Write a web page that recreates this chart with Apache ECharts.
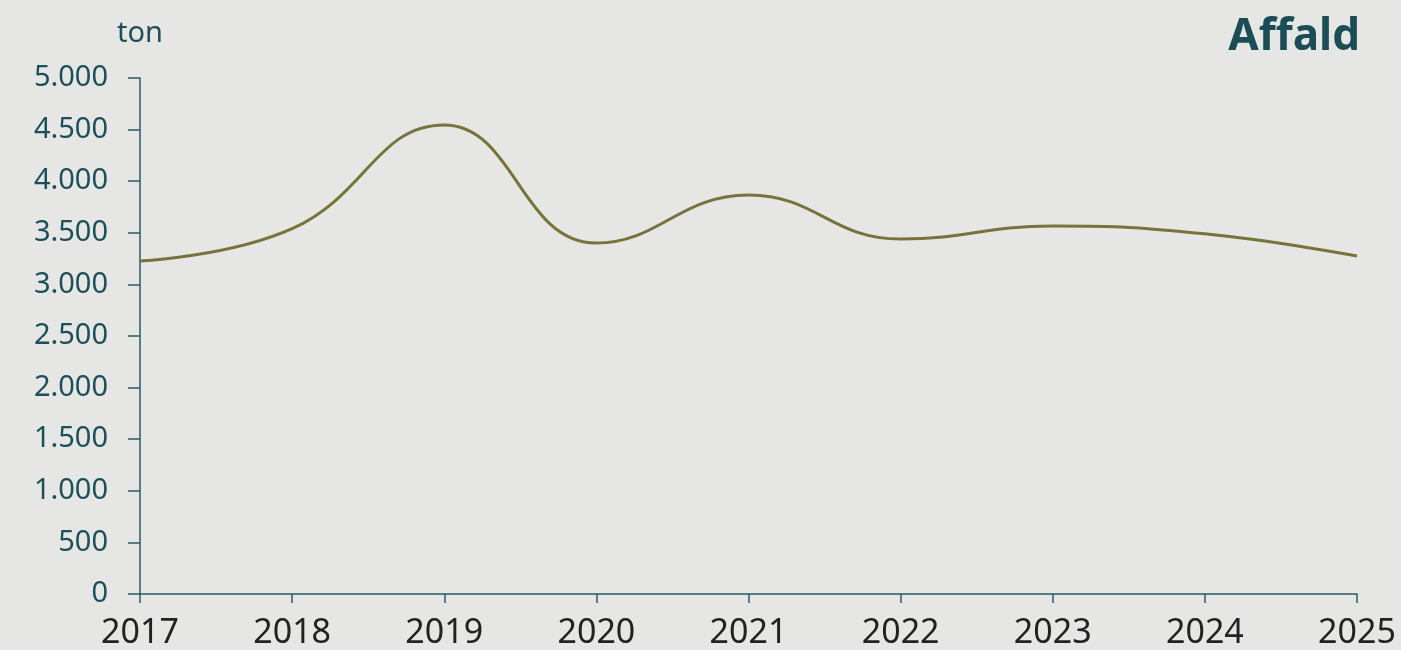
<!DOCTYPE html>
<html>
<head>
<meta charset="utf-8">
<script src="https://cdn.jsdelivr.net/npm/echarts@6/dist/echarts.min.js"></script>
<style>
  html, body { margin: 0; padding: 0; background: #e6e6e5; }
  #chart { width: 1401px; height: 650px; }
</style>
</head>
<body>
<div id="chart"></div>
<script>
// år og affaldsmængde i ton
const years = ["2017", "2018", "2019", "2020", "2021", "2022", "2023", "2024", "2025"];
const affald = [3227, 3540, 4545, 3400, 3866, 3440, 3566, 3490, 3275];
const yTicks = { min: 0, max: 5000, interval: 500 };

const fmt = (v) => String(v).replace(/\B(?=(\d{3})+(?!\d))/g, ".");

const chart = echarts.init(document.getElementById("chart"));
chart.setOption({
  backgroundColor: "#e6e6e5",
  animation: false,
  title: {
    text: "Affald",
    right: 36,
    top: 10,
    textStyle: { fontFamily: "Noto Sans", fontSize: 44, fontWeight: "bold", color: "#1b4d57" },
  },
  grid: { left: 140, right: 44, top: 78, bottom: 56, containLabel: false },
  xAxis: {
    type: "category",
    data: years,
    boundaryGap: false,
    axisLine: { lineStyle: { color: "#2b5a66", width: 1.5 } },
    axisTick: { show: true, length: 9, alignWithLabel: true, lineStyle: { color: "#2b5a66", width: 1.5 } },
    axisLabel: { margin: 22, fontFamily: "Noto Sans", fontSize: 34, color: "#222", interval: 0 },
    splitLine: { show: false },
  },
  yAxis: {
    type: "value",
    min: yTicks.min,
    max: yTicks.max,
    interval: yTicks.interval,
    name: "ton",
    nameLocation: "end",
    nameGap: 30,
    nameTextStyle: { fontFamily: "Noto Sans", fontSize: 29, color: "#1d4f5a", align: "center" },
    axisLine: { show: true, lineStyle: { color: "#2b5a66", width: 1.5 } },
    axisTick: { show: true, length: 12, lineStyle: { color: "#2b5a66", width: 1.5 } },
    axisLabel: { margin: 32, fontFamily: "Noto Sans", fontSize: 29, color: "#1d4f5a", formatter: fmt },
    splitLine: { show: false },
  },
  series: [
    {
      type: "line",
      data: affald,
      smooth: 0.45,
      symbol: "none",
      lineStyle: { color: "#77733a", width: 3 },
    },
  ],
});
</script>
</body>
</html>
